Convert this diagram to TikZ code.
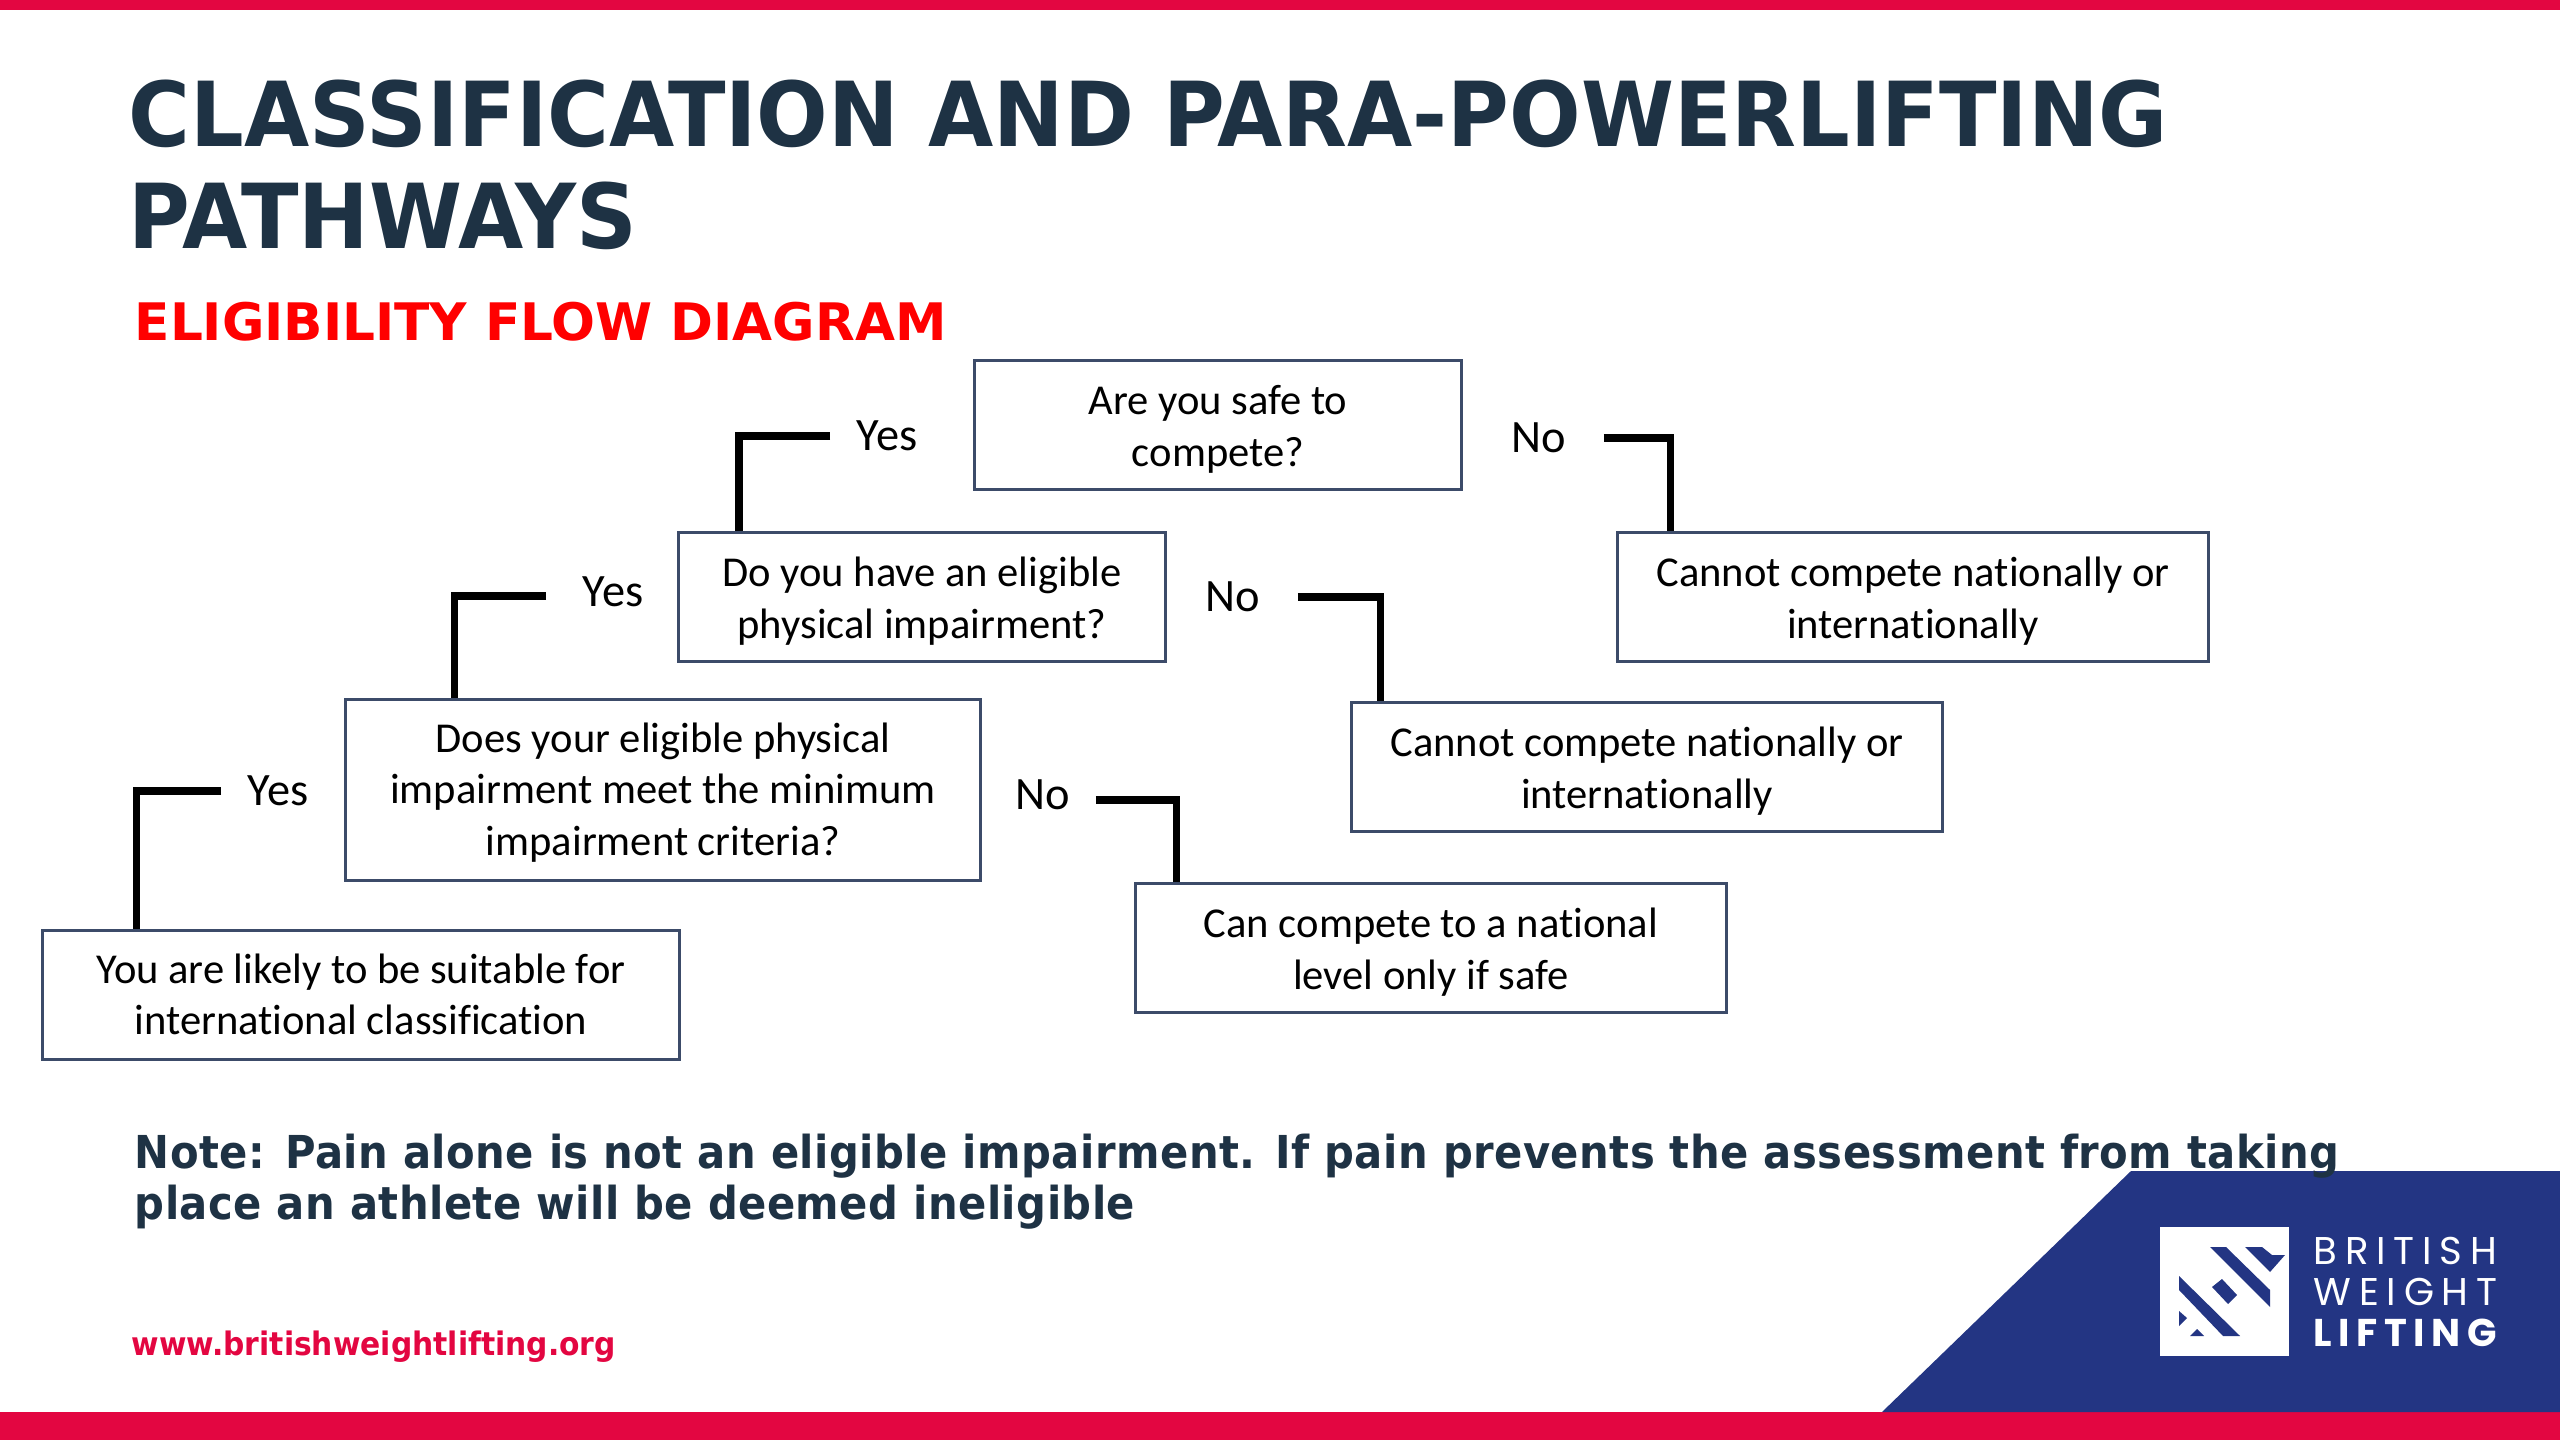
\documentclass[tikz,border=0pt]{standalone}
\usepackage{fontspec}
\setmainfont[Ligatures=CommonOff]{Carlito}
\newfontfamily\titlefont[FakeStretch=0.94]{DejaVu Sans}
\newfontfamily\subfont[FakeStretch=1.0]{DejaVu Sans}
\newfontfamily\notefont[FakeStretch=0.92,LetterSpace=1]{DejaVu Sans}
\newfontfamily\webfont[FakeStretch=0.92]{DejaVu Sans}
\newfontfamily\logofont[LetterSpace=20]{Poppins}
\newfontfamily\logoboldfont[LetterSpace=17]{Poppins}
\newcommand{\linedrop}[1][10.8pt]{\rule{0pt}{#1}}
\definecolor{crimson}{RGB}{227,6,65}
\definecolor{navyblue}{RGB}{35,53,131}
\definecolor{slatedark}{RGB}{30,50,68}
\definecolor{boxline}{RGB}{60,75,105}
\usetikzlibrary{positioning, calc}

\begin{document}
\begin{tikzpicture}[
        x=0.01cm, y=-0.01cm,
        box/.style={rectangle, draw=boxline, line width=0.9pt, minimum height=1.29cm, align=center, inner sep=0pt, font=\fontsize{12.1}{14.6}\selectfont},
        lbl/.style={inner sep=0pt, font=\fontsize{13.2}{15}\selectfont},
        link/.style={draw=black, line width=2.1pt},
        txt/.style={inner sep=0pt, anchor=north west, align=left}
    ]
        \useasboundingbox (0,0) rectangle (2560,1440);
        % bars and corner
        \fill[crimson] (0,0) rectangle (2560,10);
        \fill[crimson] (0,1412) rectangle (2560,1440);
        \fill[navyblue] (2131,1171) -- (2560,1171) -- (2560,1412) -- (1882,1412) -- cycle;

        % headings
        \node[txt, text=slatedark, font=\titlefont\bfseries\fontsize{25.5}{29}\selectfont] (TITLE) at (128,79) {CLASSIFICATION AND PARA-POWERLIFTING\\PATHWAYS};
        \node[txt, text=red, font=\subfont\bfseries\fontsize{14.7}{18}\selectfont] (SUB) at (134,301) {ELIGIBILITY FLOW DIAGRAM};

        % boxes
        \node[box, minimum width=4.87cm] (SAFE) at (1218,425) {\linedrop Are you safe to\\compete?};
        \node[box, minimum width=4.87cm] (PHYS) at (922,597) {\linedrop Do you have an eligible\\physical impairment?};
        \node[box, minimum width=6.35cm, minimum height=1.81cm] (MEET) at (663,790) {\linedrop[9.8pt]Does your eligible physical\\impairment meet the minimum\\impairment criteria?};
        \node[box, minimum width=6.36cm] (LIKELY) at (361,995) {\linedrop You are likely to be suitable for\\international classification\rule[-2.7pt]{0pt}{2.7pt}};
        \node[box, minimum width=5.90cm] (NOA) at (1913,597) {\linedrop Cannot compete nationally or\\internationally};
        \node[box, minimum width=5.90cm] (NOB) at (1647,767) {\linedrop Cannot compete nationally or\\internationally};
        \node[box, minimum width=5.90cm] (NOC) at (1431,948) {\linedrop Can compete to a national\\level only if safe};

        % answers
        \node[lbl] (YESA) at (887,436) {Yes};
        \node[lbl] (NOLA) at (1539,438) {No};
        \node[lbl] (YESB) at (613,592) {Yes};
        \node[lbl] (NOLB) at (1233,597) {No};
        \node[lbl] (YESC) at (278,791) {Yes};
        \node[lbl] (NOLC) at (1043,795) {No};

        % connectors
        \draw[link] ([xshift=-0.26cm]YESA.west) -| ([xshift=0.62cm]PHYS.north west);
        \draw[link] ([xshift=-0.36cm,yshift=-0.04cm]YESB.west) -| ([xshift=1.11cm]MEET.north west);
        \draw[link] ([xshift=-0.26cm]YESC.west) -| ([xshift=0.95cm]LIKELY.north west);
        \draw[link] ([xshift=0.37cm]NOLA.east) -| ([xshift=0.54cm]NOA.north west);
        \draw[link] ([xshift=0.37cm]NOLB.east) -| ([xshift=0.30cm]NOB.north west);
        \draw[link] ([xshift=0.25cm,yshift=-0.05cm]NOLC.east) -| ([xshift=0.42cm]NOC.north west);

        % note and web address
        \node[txt, text=slatedark, font=\notefont\bfseries\fontsize{12.9}{14.6}\selectfont] (NOTE) at (134,1133) {Note: Pain alone is not an eligible impairment. If pain prevents the assessment from taking\\place an athlete will be deemed ineligible};
        \node[txt, text=crimson, font=\webfont\bfseries\fontsize{9.2}{12}\selectfont] (WEB) at (131,1330) {www.britishweightlifting.org};

        % logo
        \fill[white] (2160,1227) rectangle (2289,1356);
        \fill[navyblue] (2210,1247) -- (2226,1247) -- (2270,1290) -- (2270,1307) -- cycle;
        \fill[navyblue] (2245,1247) -- (2262,1247) -- (2272,1255) -- (2285,1255) -- (2270,1272) -- cycle;
        \fill[navyblue] (2212,1287) -- (2222,1279) -- (2237,1295) -- (2228,1304) -- cycle;
        \fill[navyblue] (2179,1276) -- (2179,1290) -- (2223,1336) -- (2240,1336) -- cycle;
        \fill[navyblue] (2179,1311) -- (2187,1318) -- (2179,1326) -- cycle;
        \fill[navyblue] (2190,1336) -- (2197,1329) -- (2204,1336) -- cycle;
        \node[inner sep=0pt, anchor=base west, text=white, font=\logofont\fontsize{11}{12}\selectfont] (BRIT) at (2313,1264) {BRITISH};
        \node[inner sep=0pt, anchor=base west, text=white, font=\logofont\fontsize{11}{12}\selectfont] (WEIGHT) at (2313,1305) {WEIGHT};
        \node[inner sep=0pt, anchor=base west, text=white, font=\logoboldfont\bfseries\fontsize{11}{12}\selectfont] (LIFT) at (2313,1346) {LIFTING};
    \end{tikzpicture}
\end{document}
